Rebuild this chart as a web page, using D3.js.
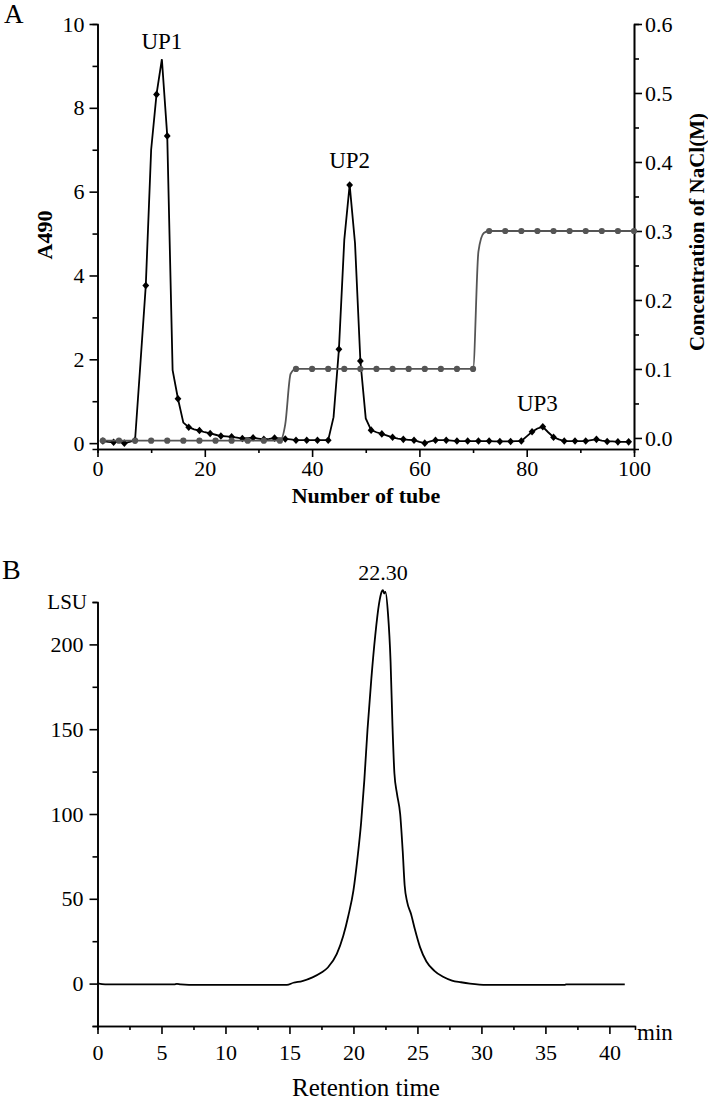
<!DOCTYPE html>
<html>
<head>
<meta charset="utf-8">
<script src="https://cdn.jsdelivr.net/npm/d3@7"></script>
<style>
  body { margin: 0; background: #fff; }
  svg { display: block; }
  text { font-family: "Liberation Serif", "Times New Roman", serif; fill: #000; }
  .axis path, .axis line { stroke: #000; stroke-width: 1.6; }
</style>
</head>
<body>
<div id="chart"></div>
<script>
// ---- Panel A: A490 per tube (tubes 1..99) ----
var tubes = d3.range(1, 100);
var a490 = [
  0.05, 0.03, 0.02, 0.04, 0.00, 0.03, 0.07, 1.90, 3.76, 7.00,
  8.32, 9.16, 7.33, 1.74, 1.06, 0.49, 0.38, 0.33, 0.30, 0.26,
  0.23, 0.20, 0.17, 0.16, 0.15, 0.13, 0.11, 0.12, 0.13, 0.11,
  0.09, 0.10, 0.12, 0.11, 0.10, 0.09, 0.07, 0.07, 0.07, 0.07,
  0.07, 0.07, 0.07, 0.62, 2.24, 4.85, 6.16, 4.77, 1.96, 0.59,
  0.31, 0.26, 0.22, 0.18, 0.14, 0.11, 0.09, 0.08, 0.07, 0.03,
  0.00, 0.04, 0.07, 0.07, 0.07, 0.06, 0.05, 0.05, 0.05, 0.05,
  0.05, 0.05, 0.05, 0.04, 0.04, 0.04, 0.04, 0.05, 0.05, 0.16,
  0.27, 0.35, 0.39, 0.26, 0.14, 0.09, 0.05, 0.05, 0.05, 0.05,
  0.05, 0.07, 0.09, 0.06, 0.04, 0.04, 0.03, 0.03, 0.03
];

// NaCl gradient per tube (tubes 1..100)
var naclTubes = d3.range(1, 101);
var nacl = [
  -0.004, -0.004, -0.004, -0.004, -0.004, -0.004, -0.004, -0.004, -0.004, -0.004,
  -0.004, -0.004, -0.004, -0.004, -0.004, -0.004, -0.004, -0.004, -0.004, -0.004,
  -0.004, -0.004, -0.004, -0.004, -0.004, -0.004, -0.004, -0.004, -0.004, -0.004,
  -0.004, -0.004, -0.004, -0.004, 0.02, 0.093, 0.1, 0.1, 0.1, 0.1,
  0.1, 0.1, 0.1, 0.1, 0.1, 0.1, 0.1, 0.1, 0.1, 0.1,
  0.1, 0.1, 0.1, 0.1, 0.1, 0.1, 0.1, 0.1, 0.1, 0.1,
  0.1, 0.1, 0.1, 0.1, 0.1, 0.1, 0.1, 0.1, 0.1, 0.1,
  0.27, 0.297, 0.3, 0.3, 0.3, 0.3, 0.3, 0.3, 0.3, 0.3,
  0.3, 0.3, 0.3, 0.3, 0.3, 0.3, 0.3, 0.3, 0.3, 0.3,
  0.3, 0.3, 0.3, 0.3, 0.3, 0.3, 0.3, 0.3, 0.3, 0.3
];

var peakLabels = [
  {text: "UP1", tube: 12, y: 49},
  {text: "UP2", tube: 47, y: 168},
  {text: "UP3", tube: 82, y: 411}
];

// ---- Panel B: HPLC trace ----
var retTime = [0, 0.6, 6.0, 6.2, 6.5, 7.8, 14.8, 15.3, 16.0, 16.8, 17.5, 18.0, 18.7, 19.2, 19.6, 20.0,
  20.3, 20.6, 20.85, 21.1, 21.4, 21.7, 22.0, 22.2, 22.3, 22.4, 22.5, 22.7, 22.9, 23.05, 23.2,
  23.4, 23.65, 23.85, 24.0, 24.2, 24.5, 24.8, 25.2, 25.7, 26.3, 27.0, 27.7, 28.4, 29.1, 30.4,
  36.5, 36.6, 41.2];
var lsu = [0.2, -0.4, -0.5, -0.2, -0.5, -0.8, -0.8, 0.5, 1.5, 3.7, 6.5, 9.5, 17.5, 28, 40, 55,
  73, 95, 120, 150, 180, 205, 224, 231, 232, 230, 231, 218, 190, 152, 124,
  112, 100, 78, 58, 48, 41, 32, 21.5, 13, 7.7, 4, 1.8, 0.8, 0, -0.8,
  -0.8, -0.5, -0.5];
var peakTime = "22.30";

var W = 708, H = 1100;
var svg = d3.select("#chart").append("svg").attr("width", W).attr("height", H);

// ================= Panel A =================
var ax = d3.scaleLinear().domain([0, 100]).range([97.5, 634]);
var ayL = d3.scaleLinear().domain([-0.14, 10]).range([449, 24]);
var ayR = d3.scaleLinear().domain([-0.016, 0.6]).range([449, 24]);

var gA = svg.append("g");

// minor ticks
gA.append("g").attr("class", "axis").attr("transform", "translate(97.5,0)")
  .call(d3.axisLeft(ayL).tickValues(d3.range(1, 10, 2)).tickSize(5).tickFormat(""));
gA.append("g").attr("class", "axis").attr("transform", "translate(0,449)")
  .call(d3.axisBottom(ax).tickValues(d3.range(10, 100, 20)).tickSize(4).tickFormat(""));
gA.append("g").attr("class", "axis").attr("transform", "translate(634,0)")
  .call(d3.axisRight(ayR).tickValues([0.05, 0.15, 0.25, 0.35, 0.45, 0.55]).tickSize(5).tickFormat(""));

// major ticks
gA.append("g").attr("class", "axis").attr("transform", "translate(97.5,0)")
  .call(d3.axisLeft(ayL).tickValues(d3.range(0, 11, 2)).tickSize(8).tickSizeOuter(0).tickPadding(5))
  .selectAll("text").style("font-size", "22px");
gA.append("g").attr("class", "axis").attr("transform", "translate(0,449)")
  .call(d3.axisBottom(ax).tickValues(d3.range(0, 101, 20)).tickSize(8).tickSizeOuter(0).tickPadding(3))
  .selectAll("text").style("font-size", "22px");
gA.append("g").attr("class", "axis").attr("transform", "translate(634,0)")
  .call(d3.axisRight(ayR).tickValues([0, 0.1, 0.2, 0.3, 0.4, 0.5, 0.6]).tickFormat(d3.format(".1f"))
    .tickSize(8).tickSizeOuter(0).tickPadding(3))
  .selectAll("text").style("font-size", "22px");

// black A490 line
var lineA = d3.line().x(function(d, i) { return ax(tubes[i]); }).y(function(d) { return ayL(d); });
gA.append("path").datum(a490).attr("d", lineA)
  .attr("fill", "none").attr("stroke", "#000").attr("stroke-width", 1.8);

var diamond = "M0,-3.8L3.4,0L0,3.8L-3.4,0Z";
gA.selectAll(".dia").data(a490.filter(function(d, i) { return i % 2 === 0; }))
  .enter().append("path")
  .attr("d", diamond)
  .attr("transform", function(d, i) { return "translate(" + ax(tubes[i * 2]) + "," + ayL(d) + ")"; })
  .attr("fill", "#000");

// grey NaCl line
var lineN = d3.line().curve(d3.curveMonotoneX)
  .x(function(d, i) { return ax(naclTubes[i]); }).y(function(d) { return ayR(d); });
gA.append("path").datum(nacl).attr("d", lineN)
  .attr("fill", "none").attr("stroke", "#555").attr("stroke-width", 1.8);
gA.selectAll(".dot").data(nacl.filter(function(d, i) { return i % 3 === 0; }))
  .enter().append("circle")
  .attr("cx", function(d, i) { return ax(naclTubes[i * 3]); })
  .attr("cy", function(d) { return ayR(d); })
  .attr("r", 3.1)
  .attr("fill", "#555");

// peak labels
gA.selectAll(".up").data(peakLabels).enter().append("text")
  .attr("x", function(d) { return ax(d.tube); })
  .attr("y", function(d) { return d.y; })
  .attr("text-anchor", "middle").style("font-size", "23px")
  .text(function(d) { return d.text; });

gA.append("text").attr("x", 4).attr("y", 23).style("font-size", "27px").text("A");
gA.append("text").attr("transform", "translate(52,235) rotate(-90)")
  .attr("text-anchor", "middle").style("font-size", "22px").style("font-weight", "bold").text("A490");
gA.append("text").attr("x", 366).attr("y", 503)
  .attr("text-anchor", "middle").style("font-size", "22px").style("font-weight", "bold").text("Number of tube");
gA.append("text").attr("transform", "translate(704,232) rotate(-90)")
  .attr("text-anchor", "middle").style("font-size", "21px").style("font-weight", "bold").text("Concentration of NaCl(M)");

// ================= Panel B =================
var bx = d3.scaleLinear().domain([0, 42]).range([97.5, 635]);
var by = d3.scaleLinear().domain([-25, 225]).range([1026, 602]);
var gB = svg.append("g");

gB.append("g").attr("class", "axis").attr("transform", "translate(97.5,0)")
  .call(d3.axisLeft(by).tickValues([-25, 25, 75, 125, 175, 225]).tickSize(5).tickFormat(""));
gB.append("g").attr("class", "axis").attr("transform", "translate(0,1026)")
  .call(d3.axisBottom(bx).tickValues(d3.range(2.5, 42, 5)).tickSize(4).tickFormat(""));
gB.append("g").attr("class", "axis").attr("transform", "translate(97.5,0)")
  .call(d3.axisLeft(by).tickValues([0, 50, 100, 150, 200]).tickSize(8).tickSizeOuter(0).tickPadding(6))
  .selectAll("text").style("font-size", "22px");
gB.append("g").attr("class", "axis").attr("transform", "translate(0,1026)")
  .call(d3.axisBottom(bx).tickValues(d3.range(0, 41, 5)).tickSize(8).tickSizeOuter(0).tickPadding(10))
  .selectAll("text").style("font-size", "22px");

var lineB = d3.line().curve(d3.curveMonotoneX)
  .x(function(d, i) { return bx(retTime[i]); }).y(function(d) { return by(d); });
gB.append("path").datum(lsu).attr("d", lineB)
  .attr("fill", "none").attr("stroke", "#000").attr("stroke-width", 1.8);

gB.append("text").attr("x", bx(22.3)).attr("y", 580)
  .attr("text-anchor", "middle").style("font-size", "22px").text(peakTime);
gB.append("text").attr("x", 2).attr("y", 579).style("font-size", "28px").text("B");
gB.append("text").attr("x", 87).attr("y", 609).attr("text-anchor", "end").style("font-size", "21px").text("LSU");
gB.append("text").attr("x", 637).attr("y", 1040).style("font-size", "23px").text("min");
gB.append("text").attr("x", 366).attr("y", 1096).attr("text-anchor", "middle").style("font-size", "25px").text("Retention time");
</script>
</body>
</html>
